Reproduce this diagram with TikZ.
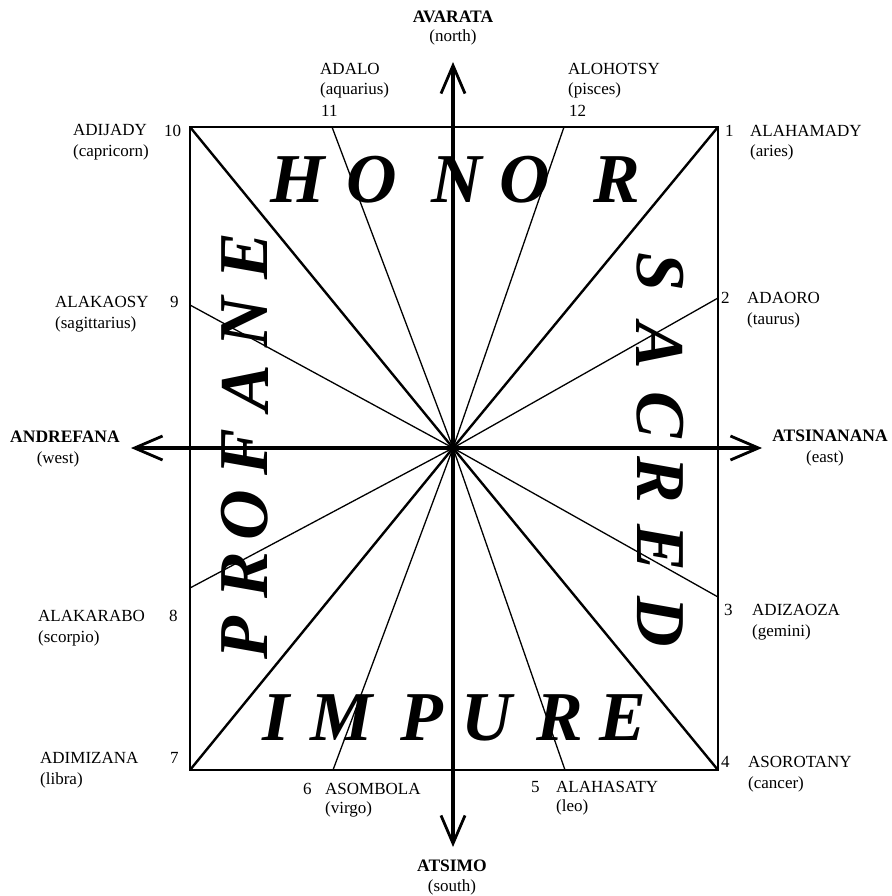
\documentclass[tikz,border=0pt]{standalone}
\usepackage{fontspec}
\setmainfont{Liberation Serif}
\usetikzlibrary{arrows.meta}

\begin{document}
\begin{tikzpicture}[x=1pt,y=-1pt,
   lbl/.style={inner sep=0pt,font=\fontsize{17}{20}\selectfont},
   dir/.style={inner sep=0pt,font=\fontsize{17.5}{20}\selectfont\bfseries},
   big/.style={inner sep=0pt,font=\fontsize{70}{72}\selectfont\bfseries\itshape},
   frame/.style={line width=1.6pt},
   diag/.style={line width=2.4pt},
   ray/.style={line width=1.3pt},
   axis/.style={line width=3.2pt,
     {Straight Barb[length=28pt,width=24pt,line width=2.8pt]}-{Straight Barb[length=28pt,width=24pt,line width=2.8pt]}}]
\useasboundingbox (0,0) rectangle (891,896);
%% ---- centre and points on the frame ----
\coordinate (o) at (453,448);
\coordinate (p1) at (718,127);
\coordinate (p2) at (718,298);
\coordinate (p3) at (718,597);
\coordinate (p4) at (718,770);
\coordinate (p5) at (565,770);
\coordinate (p6) at (333,770);
\coordinate (p7) at (190,770);
\coordinate (p8) at (190,588);
\coordinate (p9) at (190,305);
\coordinate (p10) at (190,127);
\coordinate (p11) at (332,127);
\coordinate (p12) at (564,127);
\coordinate (n) at (453,62);
\coordinate (s) at (453,847);
\coordinate (w) at (131,448);
\coordinate (e) at (762,448);
%% ---- frame, diagonals and rays ----
\draw[frame] (p10) rectangle (p4);
\foreach \k in {1,4,7,10} \draw[diag] (o) -- (p\k);
\foreach \k in {2,3,5,6,8,9,11,12} \draw[ray] (o) -- (p\k);
%% ---- big words ----
\foreach \l/\x [count=\i] in {H/298,O/372,N/457,O/525,R/617}
  \node[big] (hn\i) at (\x,180) {\l};
\foreach \l/\x [count=\i] in {I/276,M/342,P/422,U/487,R/560,E/623}
  \node[big] (im\i) at (\x,718) {\l};
\foreach \l/\y [count=\i] in {P/638,R/575,O/515,F/452,A/388,N/322,E/256}
  \node[big,rotate=90] (pf\i) at (245,\y) {\l};
\foreach \l/\y [count=\i] in {S/272,A/346,C/415,R/480,E/548,D/622}
  \node[big,rotate=-90] (sc\i) at (660,\y) {\l};
%% ---- compass axes ----
\draw[axis] (s) -- (n);
\draw[axis] (w) -- (e);
\node[dir,anchor=base] (nN) at (453,23) {AVARATA};
\node[lbl,anchor=base] (nNe) at (453,42) {(north)};
\node[dir,anchor=base] (nS) at (452,871) {ATSIMO};
\node[lbl,anchor=base] (nSe) at (452,891) {(south)};
\node[dir,anchor=base] (nW) at (65,442) {ANDREFANA};
\node[lbl,anchor=base] (nWe) at (58,463) {(west)};
\node[dir,anchor=base] (nE) at (830,441) {ATSINANANA};
\node[lbl,anchor=base] (nEe) at (825,462) {(east)};
%% ---- months ----
\node[lbl,anchor=base west] (m1) at (750,137) {ALAHAMADY};
\node[lbl,anchor=base west] (m1s) at (750,157) {(aries)};
\node[lbl,anchor=base west] (k1) at (725,137) {1};
\node[lbl,anchor=base west] (m2) at (747,303) {ADAORO};
\node[lbl,anchor=base west] (m2s) at (747,324) {(taurus)};
\node[lbl,anchor=base west] (k2) at (721,303) {2};
\node[lbl,anchor=base west] (m3) at (752,615) {ADIZAOZA};
\node[lbl,anchor=base west] (m3s) at (752,636) {(gemini)};
\node[lbl,anchor=base west] (k3) at (724,615) {3};
\node[lbl,anchor=base west] (m4) at (748,767) {ASOROTANY};
\node[lbl,anchor=base west] (m4s) at (748,788) {(cancer)};
\node[lbl,anchor=base west] (k4) at (721,767) {4};
\node[lbl,anchor=base west] (m5) at (556,792) {ALAHASATY};
\node[lbl,anchor=base west] (m5s) at (556,811) {(leo)};
\node[lbl,anchor=base west] (k5) at (531,792) {5};
\node[lbl,anchor=base west] (m6) at (325,794) {ASOMBOLA};
\node[lbl,anchor=base west] (m6s) at (325,813) {(virgo)};
\node[lbl,anchor=base west] (k6) at (303,794) {6};
\node[lbl,anchor=base west] (m7) at (40,763) {ADIMIZANA};
\node[lbl,anchor=base west] (m7s) at (40,784) {(libra)};
\node[lbl,anchor=base west] (k7) at (170,763) {7};
\node[lbl,anchor=base west] (m8) at (38,621) {ALAKARABO};
\node[lbl,anchor=base west] (m8s) at (38,642) {(scorpio)};
\node[lbl,anchor=base west] (k8) at (169,621) {8};
\node[lbl,anchor=base west] (m9) at (55,307) {ALAKAOSY};
\node[lbl,anchor=base west] (m9s) at (55,328) {(sagittarius)};
\node[lbl,anchor=base west] (k9) at (170,307) {9};
\node[lbl,anchor=base west] (m10) at (73,136) {ADIJADY};
\node[lbl,anchor=base west] (m10s) at (73,157) {(capricorn)};
\node[lbl,anchor=base west] (k10) at (164,137) {10};
\node[lbl,anchor=base west] (m11) at (320,75) {ADALO};
\node[lbl,anchor=base west] (m11s) at (320,95) {(aquarius)};
\node[lbl,anchor=base west] (k11) at (321,117) {11};
\node[lbl,anchor=base west] (m12) at (568,75) {ALOHOTSY};
\node[lbl,anchor=base west] (m12s) at (568,95) {(pisces)};
\node[lbl,anchor=base west] (k12) at (569,117) {12};
\end{tikzpicture}
\end{document}
